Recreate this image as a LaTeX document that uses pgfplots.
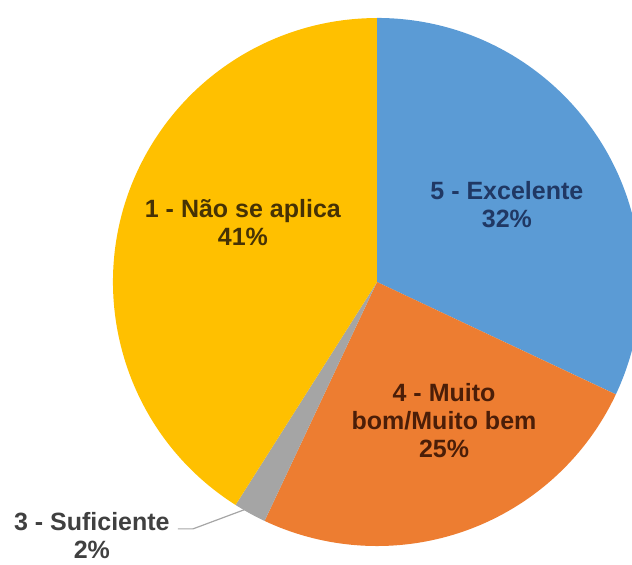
\documentclass[border=0pt]{standalone}
\usepackage{fontspec}
\setmainfont{Liberation Sans}
\usepackage{pgfplots}
\usepackage{pgfplotstable}
\pgfplotsset{compat=1.18}

\definecolor{sBlue}{HTML}{5B9BD5}
\definecolor{sOrange}{HTML}{ED7D31}
\definecolor{sGray}{HTML}{A5A5A5}
\definecolor{sYellow}{HTML}{FFC000}

% share of each answer, clockwise from 12 o'clock
\pgfplotstableread{
value colour
32 sBlue
25 sOrange
2  sGray
41 sYellow
}\piedata

\begin{document}
\begin{tikzpicture}
\begin{axis}[
    name=pie,
    scale only axis,
    width=316pt, height=282pt,
    xmin=-1.428, xmax=0.966,
    ymin=-1.068, ymax=1.068,
    hide axis,
    clip=true,
  ]
  \xdef\angA{90}
  \foreach \i in {0,...,3}{
    \pgfplotstablegetelem{\i}{value}\of\piedata \let\val\pgfplotsretval
    \pgfplotstablegetelem{\i}{colour}\of\piedata \let\col\pgfplotsretval
    \pgfmathsetmacro{\angB}{\angA-3.6*\val}
    \pgfmathsetmacro{\xa}{cos(\angA)}
    \pgfmathsetmacro{\ya}{sin(\angA)}
    \edef\temp{\noexpand\fill[\col] (axis cs:0,0) -- (axis cs:\xa,\ya)
      arc[start angle=\angA, end angle=\angB, radius=132pt] -- cycle;}
    \temp
    \xdef\angA{\angB}
  }

  \tikzset{lbl/.style={align=center, font=\fontsize{12.5}{14}\selectfont\bfseries}}
  \node[lbl, text={rgb,255:red,32;green,56;blue,100}] at (axis cs:0.492,0.295) {5 - Excelente\\32\%};
  \node[lbl, text={rgb,255:red,70;green,50;blue,5}] at (axis cs:-0.508,0.227) {1 - Não se aplica\\41\%};
  \node[lbl, text={rgb,255:red,75;green,30;blue,8}] at (axis cs:0.254,-0.523) {4 - Muito\\bom/Muito bem\\25\%};
  \node[lbl, text={rgb,255:red,64;green,64;blue,64}, inner sep=1pt] at (axis cs:-1.080,-0.962) {3 - Suficiente\\2\%};
  \draw[gray!70, line width=0.6pt] (axis cs:-0.754,-0.935) -- (axis cs:-0.697,-0.935) -- (axis cs:-0.496,-0.860);
\end{axis}
\pgfresetboundingbox
\useasboundingbox (pie.south west) rectangle (pie.north east);
\end{tikzpicture}
\end{document}
